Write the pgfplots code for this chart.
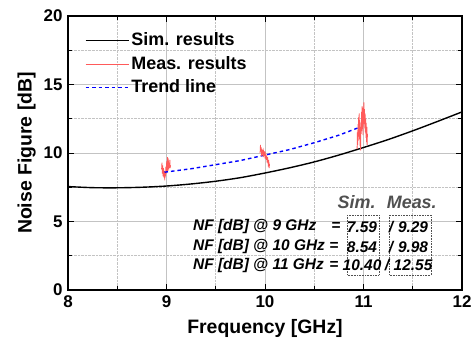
\documentclass[border=0pt]{standalone}
\usepackage{pgfplots}
\pgfplotsset{compat=1.18}
\usepackage{fontspec}
\setmainfont{Liberation Sans}
\definecolor{measred}{RGB}{255,90,90}
\definecolor{gridgray}{RGB}{195,195,195}
\definecolor{annogray}{RGB}{80,80,80}
\begin{document}
\begin{tikzpicture}
\useasboundingbox (-68bp,-55bp) rectangle (404bp,290bp);
\begin{axis}[
  at={(0,0)}, anchor=south west,
  scale only axis, width=394bp, height=274bp,
  xmin=8, xmax=12, ymin=0, ymax=20,
  xtick={8,9,10,11,12}, ytick={0,5,10,15,20},
  minor xtick={8.5,9.5,10.5,11.5}, minor ytick={2.5,7.5,12.5,17.5},
  tick align=inside, tick pos=both,
  major tick length=6bp, minor tick length=4bp,
  every tick/.style={black, line width=1pt},
  grid=both,
  major grid style={gridgray, line width=0.8pt},
  minor grid style={gridgray, densely dotted, line width=0.6pt},
  axis line style={line width=1.2pt},
  tick label style={font=\fontsize{17}{19}\selectfont\bfseries},
  /pgf/number format/assume math mode=true,
  xticklabel style={yshift=-2bp},
  yticklabel style={xshift=-2bp},
  xlabel={Frequency [GHz]}, ylabel={Noise Figure [dB]},
  label style={font=\fontsize{19.5}{22}\selectfont\bfseries},
  xlabel style={yshift=-5bp},
  ylabel style={yshift=1bp},
  legend style={draw=none, fill=none, at={(0.035,0.955)}, anchor=north west,
    font=\fontsize{18}{20}\selectfont\bfseries, row sep=3.5bp,
    nodes={text height=13bp, text depth=3bp, inner sep=2bp}},
  legend cell align=left,
  legend image code/.code={\draw[#1] (0bp,0bp) -- (43bp,0bp);},
]
\addplot[black, line width=1.4pt, smooth] coordinates {
(8,7.55)(8.25,7.47)(8.5,7.46)(8.75,7.5)(9,7.59)(9.25,7.74)(9.5,7.94)(9.75,8.2)(10,8.54)
(10.25,8.92)(10.5,9.35)(10.75,9.85)(11,10.40)(11.25,10.98)(11.5,11.62)(11.75,12.3)(12,13.0)};
\addlegendentry{Sim. results}
\addplot[measred, line width=0.8pt] coordinates {
(8.950,8.8)(8.954,9.3)(8.958,8.5)(8.962,9.1)(8.966,8.3)(8.970,8.9)(8.974,8.2)(8.978,8.7)
(8.982,8.0)(8.986,8.6)(8.990,8.3)(8.994,9.0)(8.998,8.5)(9.002,9.4)(9.006,8.6)(9.010,9.7)
(9.014,8.7)(9.018,9.6)(9.022,8.8)(9.026,9.3)(9.030,8.9)(9.034,9.5)(9.038,8.9)(9.040,9.1)};
\addlegendentry{Meas. results}
\addplot[color=blue, line width=1.4pt, dash pattern=on 3.5bp off 3bp] coordinates {
(8.98,8.6)(9.25,8.85)(9.5,9.15)(9.75,9.45)(10,9.85)(10.25,10.25)(10.5,10.75)(10.75,11.3)(10.95,11.85)};
\addlegendentry{Trend line}
\addplot[measred, line width=0.8pt, forget plot] coordinates {
(9.950,10.0)(9.954,10.6)(9.958,10.1)(9.962,10.4)(9.966,9.8)(9.970,10.3)(9.974,9.9)(9.978,10.2)
(9.982,9.7)(9.986,10.1)(9.990,9.9)(9.994,10.0)(9.998,9.8)(10.002,10.1)(10.006,9.6)(10.010,9.9)
(10.014,9.5)(10.018,9.8)(10.022,9.3)(10.026,9.7)(10.030,9.4)(10.034,9.0)(10.038,9.5)(10.042,8.9)(10.046,9.2)};
\addplot[measred, line width=0.8pt, forget plot] coordinates {
(10.935,10.3)(10.938,11.5)(10.941,10.6)(10.944,12.1)(10.947,10.9)(10.950,12.6)(10.953,11.2)(10.956,12.9)
(10.959,11.0)(10.962,12.4)(10.965,10.5)(10.968,11.8)(10.971,10.2)(10.974,12.2)(10.977,11.4)(10.980,13.0)
(10.983,11.6)(10.986,13.4)(10.989,12.0)(10.992,12.8)(10.995,11.3)(10.998,13.3)(11.001,12.1)(11.004,13.7)
(11.007,12.3)(11.010,13.2)(11.013,11.8)(11.016,12.9)(11.019,11.5)(11.022,12.5)(11.025,11.1)(11.028,12.2)
(11.031,10.8)(11.034,11.9)(11.037,10.6)(11.040,11.4)};
% annotation
\node[font=\fontsize{18}{20}\selectfont\bfseries\itshape, text=annogray] at (axis cs:10.93,6.42) {Sim.};
\node[font=\fontsize{18}{20}\selectfont\bfseries\itshape, text=annogray] at (axis cs:11.49,6.42) {Meas.};
\draw[annogray, densely dotted, line width=0.6pt] (axis cs:10.832,5.47) rectangle (axis cs:11.157,1.09);
\draw[annogray, densely dotted, line width=0.6pt] (axis cs:11.259,5.47) rectangle (axis cs:11.685,1.09);
\begin{scope}[every node/.style={font=\fontsize{15.5}{17}\selectfont\bfseries\itshape, inner sep=0pt}]
\node[anchor=west] at (axis cs:9.269,4.6) {NF [dB] @ 9 GHz};
\node[anchor=west] at (axis cs:9.269,3.14) {NF [dB] @ 10 GHz};
\node[anchor=west] at (axis cs:9.269,1.82) {NF [dB] @ 11 GHz};
\node at (axis cs:10.72,4.6) {=};
\node at (axis cs:10.70,3.14) {=};
\node at (axis cs:10.70,1.82) {=};
\node at (axis cs:10.985,4.6) {7.59};
\node at (axis cs:10.985,3.14) {8.54};
\node at (axis cs:10.985,1.82) {10.40};
\node at (axis cs:11.279,4.6) {/};
\node at (axis cs:11.279,3.14) {/};
\node at (axis cs:11.239,1.82) {/};
\node at (axis cs:11.503,4.6) {9.29};
\node at (axis cs:11.503,3.14) {9.98};
\node at (axis cs:11.503,1.82) {12.55};
\end{scope}
\end{axis}
\end{tikzpicture}
\end{document}
